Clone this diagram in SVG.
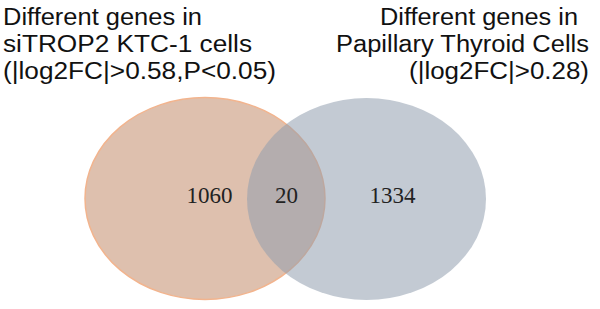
<svg xmlns="http://www.w3.org/2000/svg" width="600" height="309" viewBox="0 0 600 309">
<style>
.t{font-family:"Liberation Sans",Arial,sans-serif;font-size:23px;fill:#111}
.n{font-family:"Liberation Serif","Times New Roman",serif;font-size:23px;fill:#222;text-anchor:middle}
</style>
<rect width="600" height="309" fill="#fff"/>
<g id="set-left">
<ellipse cx="205" cy="198.5" rx="120" ry="101" fill="#dec0ae" stroke="#f2b48e" stroke-width="1.5"/>
</g>
<g id="set-right">
<ellipse cx="366.5" cy="199" rx="119.5" ry="101" fill="#909dae" fill-opacity="0.54"/>
</g>
<g id="labels-left">
<text class="t" x="3" y="25" textLength="199" lengthAdjust="spacingAndGlyphs">Different genes in</text>
<text class="t" x="3" y="52" textLength="249" lengthAdjust="spacingAndGlyphs">siTROP2 KTC-1 cells</text>
<text class="t" x="3" y="79" textLength="273" lengthAdjust="spacingAndGlyphs">(|log2FC|&gt;0.58,P&lt;0.05)</text>
</g>
<g id="labels-right">
<text class="t" x="380" y="25" textLength="198" lengthAdjust="spacingAndGlyphs">Different genes in</text>
<text class="t" x="336" y="52" textLength="253" lengthAdjust="spacingAndGlyphs">Papillary Thyroid Cells</text>
<text class="t" x="409" y="79" textLength="180" lengthAdjust="spacingAndGlyphs">(|log2FC|&gt;0.28)</text>
</g>
<g id="counts">
<text class="n" x="209.5" y="203">1060</text>
<text class="n" x="286.5" y="203">20</text>
<text class="n" x="392.5" y="203">1334</text>
</g>
<g id="connectors"></g>
</svg>
